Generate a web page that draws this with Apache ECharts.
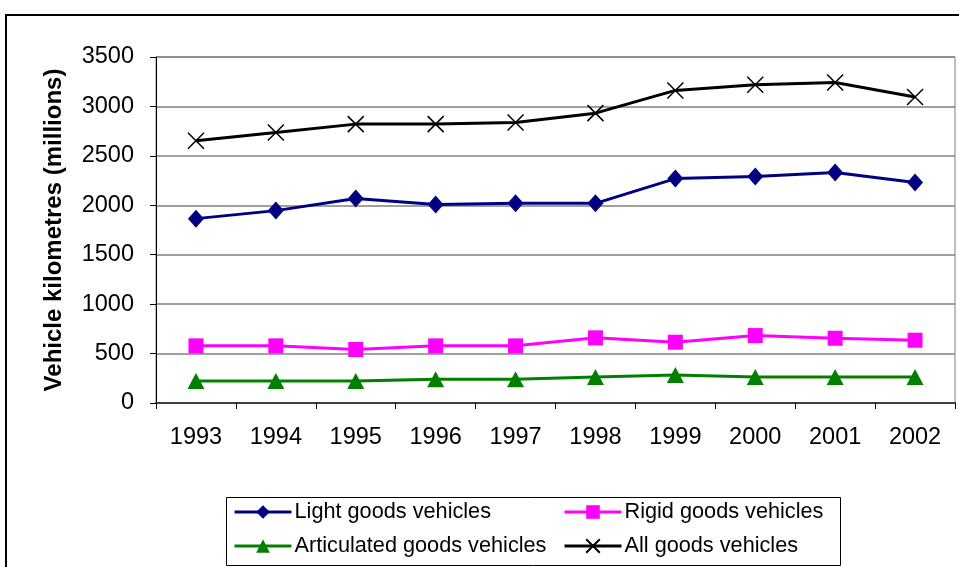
<!DOCTYPE html>
<html><head><meta charset="utf-8">
<script src="https://cdn.jsdelivr.net/npm/echarts@6/dist/echarts.min.js"></script>
<style>html,body{margin:0;padding:0;background:#fff}#c{width:959px;height:567px}</style>
</head><body><div id="c"></div>
<script>
const years = ['1993','1994','1995','1996','1997','1998','1999','2000','2001','2002'];
const lightGoods = [1865, 1946, 2068, 2007, 2020, 2020, 2270, 2291, 2331, 2230];
const rigidGoods = [578, 578, 541, 578, 578, 659, 615, 682, 655, 635];
const articulatedGoods = [223, 223, 223, 240, 240, 264, 284, 264, 264, 264];
const allGoods = [2652, 2736, 2821, 2821, 2838, 2932, 3162, 3220, 3243, 3095];
const yTicks = {min: 0, max: 3500, step: 500};
const seriesNames = ['Light goods vehicles','Rigid goods vehicles','Articulated goods vehicles','All goods vehicles'];

const FONT = 'Liberation Sans, Arial, sans-serif';
const chart = echarts.init(document.getElementById('c'), null, {renderer:'canvas'});
function legendAt(name, left, top){
  return {data:[name], left:left, top:top, itemWidth:57, itemHeight:17, itemGap:0,
    lineStyle:{width:3},
    textStyle:{fontFamily:FONT, fontSize:21.7, color:'#000', padding:[0,0,0,-2]}, padding:0};
}
const crossPath = 'path://M0,0L10,10M10,0L0,10';
chart.setOption({
  animation:false,
  backgroundColor:'#fff',
  grid:{left:156, right:4, top:57, bottom:164, show:true, borderColor:'#808080', borderWidth:1},
  legend:[
    legendAt(seriesNames[0], 233, 501),
    legendAt(seriesNames[1], 563, 501),
    legendAt(seriesNames[2], 233, 535),
    legendAt(seriesNames[3], 563, 535)
  ],
  xAxis:{type:'category', data:years, boundaryGap:true,
    axisLine:{lineStyle:{color:'#404040', width:2}},
    axisTick:{show:true, length:6, lineStyle:{color:'#000'}},
    axisLabel:{fontFamily:FONT, fontSize:23.5, color:'#000', margin:23}},
  yAxis:{type:'value', min:yTicks.min, max:yTicks.max, interval:yTicks.step,
    name:'Vehicle kilometres (millions)', nameLocation:'middle', nameGap:90,
    nameTextStyle:{fontFamily:FONT, fontSize:24, fontWeight:'bold', color:'#000'},
    axisLine:{show:true, lineStyle:{color:'#000', width:1}},
    axisTick:{show:true, length:6, lineStyle:{color:'#000'}},
    splitLine:{lineStyle:{color:'#808080', width:1.5}},
    axisLabel:{fontFamily:FONT, fontSize:23.5, color:'#000', margin:22, formatter:function(v){return String(v);}}},
  series:[
    {name:seriesNames[0], type:'line', data:lightGoods, symbol:'diamond', symbolSize:[16,18],
      lineStyle:{color:'#000080', width:3}, itemStyle:{color:'#000080'}},
    {name:seriesNames[1], type:'line', data:rigidGoods, symbol:'rect', symbolSize:15,
      lineStyle:{color:'#FF00FF', width:3}, itemStyle:{color:'#FF00FF'}},
    {name:seriesNames[2], type:'line', data:articulatedGoods, symbol:'triangle', symbolSize:[17,16],
      lineStyle:{color:'#008000', width:3}, itemStyle:{color:'#008000'}},
    {name:seriesNames[3], type:'line', data:allGoods, symbol:crossPath, symbolSize:16,
      lineStyle:{color:'#000', width:3}, itemStyle:{color:'none', borderColor:'#000', borderWidth:1.5}}
  ],
  graphic:[
    {type:'rect', shape:{x:6, y:15, width:1000, height:600}, style:{fill:'none', stroke:'#000', lineWidth:2}, silent:true, z:-1},
    {type:'rect', shape:{x:226.5, y:497.5, width:614, height:68}, style:{fill:'none', stroke:'#000', lineWidth:1}, silent:true, z:-1}
  ]
});
</script></body></html>
